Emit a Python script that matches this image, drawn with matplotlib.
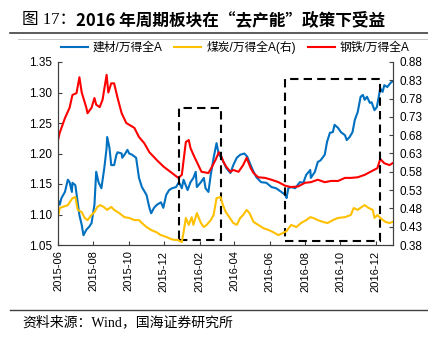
import matplotlib
matplotlib.use("Agg")
import matplotlib.pyplot as plt
import matplotlib.dates as mdates
from matplotlib.patches import Rectangle
from matplotlib.lines import Line2D
import pandas as pd

plt.rcParams['font.family'] = ['Liberation Sans', 'Noto Sans CJK SC', 'DejaVu Sans']

# 钢铁/万得全A (left axis)
steel_dates = ["2015-06-01", "2015-06-04", "2015-06-13", "2015-06-21", "2015-06-26", "2015-07-03",
               "2015-07-08", "2015-07-12", "2015-07-20", "2015-07-22", "2015-07-29", "2015-08-03",
               "2015-08-06", "2015-08-12", "2015-08-17", "2015-08-24", "2015-08-27", "2015-09-01",
               "2015-09-06", "2015-09-12", "2015-09-19", "2015-09-27", "2015-10-11", "2015-10-19",
               "2015-10-28", "2015-11-06", "2015-11-19", "2015-12-01", "2015-12-15", "2015-12-26",
               "2016-01-01", "2016-01-08", "2016-01-13", "2016-01-16", "2016-01-21", "2016-01-27",
               "2016-02-04", "2016-02-16", "2016-02-22", "2016-02-28", "2016-03-05", "2016-03-08",
               "2016-03-13", "2016-03-18", "2016-03-25", "2016-03-30", "2016-04-08", "2016-04-16",
               "2016-04-22", "2016-04-29", "2016-05-04", "2016-05-12", "2016-05-24", "2016-06-04",
               "2016-06-16", "2016-06-28", "2016-07-08", "2016-07-20", "2016-08-01", "2016-08-11",
               "2016-08-23", "2016-09-04", "2016-09-15", "2016-09-27", "2016-10-09", "2016-10-19",
               "2016-10-31", "2016-11-12", "2016-11-22", "2016-12-04", "2016-12-09", "2016-12-16",
               "2016-12-25", "2016-12-30"]
steel_vals = [1.222, 1.234, 1.258, 1.275, 1.296, 1.299,
              1.325, 1.300, 1.275, 1.266, 1.275, 1.291,
              1.280, 1.276, 1.288, 1.329, 1.300, 1.315,
              1.315, 1.291, 1.266, 1.250, 1.242, 1.227,
              1.217, 1.202, 1.189, 1.178, 1.168, 1.160,
              1.165, 1.219, 1.222, 1.209, 1.198, 1.186,
              1.170, 1.168, 1.178, 1.189, 1.202, 1.198,
              1.186, 1.178, 1.170, 1.173, 1.170, 1.181,
              1.193, 1.176, 1.168, 1.161, 1.160, 1.157,
              1.153, 1.147, 1.145, 1.146, 1.152, 1.153,
              1.157, 1.153, 1.155, 1.155, 1.160, 1.160,
              1.161, 1.165, 1.170, 1.176, 1.191, 1.184,
              1.181, 1.184]

# 建材/万得全A (left axis)
build_dates = ["2015-06-01", "2015-06-04", "2015-06-07", "2015-06-13", "2015-06-18", "2015-06-21",
               "2015-06-25", "2015-06-26", "2015-07-01", "2015-07-05", "2015-07-08", "2015-07-12",
               "2015-07-15", "2015-07-20", "2015-07-25", "2015-07-29", "2015-08-03", "2015-08-06",
               "2015-08-10", "2015-08-15", "2015-08-20", "2015-08-24", "2015-08-25", "2015-08-29",
               "2015-09-01", "2015-09-06", "2015-09-10", "2015-09-12", "2015-09-19", "2015-09-20",
               "2015-09-24", "2015-09-29", "2015-10-02", "2015-10-07", "2015-10-14", "2015-10-19",
               "2015-10-24", "2015-11-01", "2015-11-06", "2015-11-09", "2015-11-14", "2015-11-19",
               "2015-11-26", "2015-11-30", "2015-12-05", "2015-12-10", "2015-12-15", "2015-12-22",
               "2015-12-27", "2016-01-01", "2016-01-04", "2016-01-11", "2016-01-16", "2016-01-21",
               "2016-01-25", "2016-01-27", "2016-02-03", "2016-02-08", "2016-02-11", "2016-02-16",
               "2016-02-20", "2016-02-25", "2016-03-01", "2016-03-05", "2016-03-10", "2016-03-13",
               "2016-03-18", "2016-03-25", "2016-03-30", "2016-04-05", "2016-04-11", "2016-04-18",
               "2016-04-23", "2016-04-29", "2016-05-04", "2016-05-09", "2016-05-17", "2016-05-26",
               "2016-06-04", "2016-06-12", "2016-06-21", "2016-06-28", "2016-06-30", "2016-07-03",
               "2016-07-08", "2016-07-15", "2016-07-23", "2016-07-29", "2016-08-03", "2016-08-10",
               "2016-08-11", "2016-08-18", "2016-08-23", "2016-08-28", "2016-09-04", "2016-09-08",
               "2016-09-13", "2016-09-18", "2016-09-21", "2016-09-27", "2016-10-02", "2016-10-09",
               "2016-10-12", "2016-10-17", "2016-10-22", "2016-10-26", "2016-10-31", "2016-11-05",
               "2016-11-09", "2016-11-12", "2016-11-16", "2016-11-21", "2016-11-24", "2016-11-29",
               "2016-12-03", "2016-12-06", "2016-12-09", "2016-12-13", "2016-12-16", "2016-12-21",
               "2016-12-27", "2016-12-30"]
build_vals = [1.124, 1.116, 1.127, 1.137, 1.157, 1.153,
              1.137, 1.152, 1.148, 1.120, 1.099, 1.083,
              1.066, 1.075, 1.080, 1.086, 1.116, 1.170,
              1.153, 1.143, 1.176, 1.209, 1.227, 1.209,
              1.181, 1.181, 1.198, 1.202, 1.200, 1.193,
              1.198, 1.206, 1.200, 1.198, 1.193, 1.160,
              1.145, 1.132, 1.111, 1.102, 1.111, 1.116,
              1.120, 1.111, 1.132, 1.140, 1.143, 1.145,
              1.153, 1.143, 1.157, 1.140, 1.153, 1.160,
              1.170, 1.145, 1.153, 1.160, 1.143, 1.137,
              1.165, 1.193, 1.217, 1.198, 1.193, 1.186,
              1.176, 1.168, 1.181, 1.193, 1.198, 1.200,
              1.195, 1.181, 1.170, 1.161, 1.153, 1.152,
              1.145, 1.143, 1.137, 1.132, 1.127, 1.143,
              1.145, 1.143, 1.153, 1.152, 1.165, 1.173,
              1.160, 1.170, 1.186, 1.189, 1.198, 1.219,
              1.234, 1.235, 1.247, 1.242, 1.235, 1.230,
              1.222, 1.227, 1.235, 1.255, 1.268, 1.293,
              1.296, 1.288, 1.293, 1.283, 1.284, 1.271,
              1.276, 1.291, 1.307, 1.301, 1.312, 1.309,
              1.316, 1.318]

# 煤炭/万得全A (right axis)
coal_dates = ["2015-06-01", "2015-06-04", "2015-06-09", "2015-06-18", "2015-06-26", "2015-07-01",
              "2015-07-05", "2015-07-12", "2015-07-17", "2015-07-22", "2015-07-29", "2015-08-03",
              "2015-08-08", "2015-08-13", "2015-08-19", "2015-08-25", "2015-09-01", "2015-09-06",
              "2015-09-15", "2015-09-24", "2015-10-02", "2015-10-11", "2015-10-19", "2015-10-24",
              "2015-11-01", "2015-11-09", "2015-11-18", "2015-11-26", "2015-12-05", "2015-12-14",
              "2015-12-19", "2015-12-24", "2016-01-01", "2016-01-04", "2016-01-08", "2016-01-13",
              "2016-01-18", "2016-01-21", "2016-01-27", "2016-02-03", "2016-02-08", "2016-02-13",
              "2016-02-20", "2016-02-25", "2016-03-01", "2016-03-08", "2016-03-12", "2016-03-17",
              "2016-03-24", "2016-03-30", "2016-04-05", "2016-04-11", "2016-04-16", "2016-04-22",
              "2016-04-27", "2016-05-04", "2016-05-12", "2016-05-21", "2016-05-30", "2016-06-07",
              "2016-06-16", "2016-06-24", "2016-06-30", "2016-07-08", "2016-07-17", "2016-07-25",
              "2016-08-03", "2016-08-10", "2016-08-15", "2016-08-23", "2016-09-01", "2016-09-09",
              "2016-09-18", "2016-09-27", "2016-10-09", "2016-10-19", "2016-10-24", "2016-10-31",
              "2016-11-07", "2016-11-12", "2016-11-19", "2016-11-26", "2016-11-29", "2016-12-04",
              "2016-12-09", "2016-12-18", "2016-12-25", "2016-12-30"]
coal_vals = [0.457, 0.481, 0.484, 0.489, 0.508, 0.511,
             0.476, 0.470, 0.454, 0.448, 0.462, 0.470,
             0.484, 0.489, 0.484, 0.476, 0.484, 0.476,
             0.467, 0.456, 0.454, 0.448, 0.448, 0.440,
             0.429, 0.421, 0.415, 0.407, 0.402, 0.396,
             0.394, 0.394, 0.388, 0.415, 0.454, 0.435,
             0.456, 0.435, 0.467, 0.440, 0.429, 0.435,
             0.448, 0.462, 0.508, 0.511, 0.489, 0.470,
             0.454, 0.440, 0.435, 0.454, 0.462, 0.476,
             0.467, 0.443, 0.435, 0.426, 0.421, 0.415,
             0.407, 0.413, 0.418, 0.435, 0.429, 0.440,
             0.448, 0.456, 0.454, 0.448, 0.443, 0.440,
             0.448, 0.454, 0.456, 0.462, 0.481, 0.476,
             0.484, 0.489, 0.481, 0.476, 0.454, 0.462,
             0.454, 0.443, 0.440, 0.443]

# dashed highlight boxes: (start, end, low, high) on the left axis
boxes = [("2015-12-27", "2016-03-09", 1.059, 1.274),
         ("2016-06-27", "2016-12-08", 1.056, 1.322)]

left_ticks = [1.05, 1.10, 1.15, 1.20, 1.25, 1.30, 1.35]
right_ticks = [0.38, 0.43, 0.48, 0.53, 0.58, 0.63, 0.68, 0.73, 0.78, 0.83, 0.88]

c_build = "#0070C0"
c_coal = "#FFC000"
c_steel = "#FF0000"

fig = plt.figure(figsize=(4.28, 3.39), dpi=100)
ax = fig.add_axes([58 / 428, 1 - 245 / 339, 335 / 428, 183 / 339])
ax2 = ax.twinx()

ax.plot(pd.to_datetime(build_dates), build_vals, color=c_build, lw=1.5)
ax.plot(pd.to_datetime(steel_dates), steel_vals, color=c_steel, lw=1.5)
ax2.plot(pd.to_datetime(coal_dates), coal_vals, color=c_coal, lw=1.5)

for start, end, lo, hi in boxes:
    x0 = mdates.date2num(pd.Timestamp(start))
    x1 = mdates.date2num(pd.Timestamp(end))
    ax.add_patch(Rectangle((x0, lo), x1 - x0, hi - lo, fill=False, ec="black",
                           lw=1.5, ls=(0, (4, 2.5)), zorder=5))

ax.set_xlim(pd.Timestamp("2015-06-01"), pd.Timestamp("2016-12-31"))
ax.set_ylim(1.05, 1.35)
ax2.set_ylim(0.38, 0.88)
ax.set_yticks(left_ticks)
ax.set_yticklabels([f"{v:.2f}" for v in left_ticks])
ax2.set_yticks(right_ticks)
ax2.set_yticklabels([f"{v:.2f}" for v in right_ticks])

ax.xaxis.set_major_locator(mdates.MonthLocator(bymonth=[2, 4, 6, 8, 10, 12]))
ax.xaxis.set_major_formatter(mdates.DateFormatter("%Y-%m"))
for lab in ax.get_xticklabels():
    lab.set_rotation(90)

ax.tick_params(axis="x", direction="in", length=3, labelsize=8, pad=4, color="#404040")
ax.tick_params(axis="y", direction="in", length=3, labelsize=8.5, pad=4, color="#404040")
ax2.tick_params(axis="y", direction="in", length=3, labelsize=8.5, pad=5, color="#404040")

for a in (ax, ax2):
    a.spines["top"].set_visible(False)
    for s in ("left", "right", "bottom"):
        a.spines[s].set_color("#404040")
        a.spines[s].set_linewidth(0.8)

# legend
handles = [Line2D([], [], color=c_build, lw=1.5),
           Line2D([], [], color=c_coal, lw=1.5),
           Line2D([], [], color=c_steel, lw=1.5)]
labels = ["建材/万得全A", "煤炭/万得全A(右)", "钢铁/万得全A"]
fig.legend(handles, labels, loc="center", ncol=3, frameon=False,
           bbox_to_anchor=(56 / 428, 1 - 54 / 339, 358 / 428, 14 / 339), mode="expand",
           handlelength=2.3, handletextpad=0.4, borderaxespad=0,
           prop={"family": ["Liberation Sans", "Noto Sans CJK SC"], "size": 8.5})

# title, rules and source
fig.text(22 / 428, 1 - 20 / 339, "图 17：", fontsize=12, va="center", ha="left",
         family=["Liberation Serif", "Noto Sans CJK SC"])
fig.text(76 / 428, 1 - 20 / 339, "2016 年周期板块在“去产能”政策下受益",
         fontsize=12, fontweight="bold", va="center", ha="left",
         family=["Noto Sans CJK SC", "Liberation Sans"])
fig.add_artist(Line2D([10 / 428, 1], [1 - 33 / 339, 1 - 33 / 339], color="#404040", lw=1.2))
fig.add_artist(Line2D([18 / 428, 1], [1 - 39 / 339, 1 - 39 / 339], color="#BFBFBF", lw=0.6))
fig.add_artist(Line2D([10 / 428, 1], [1 - 310 / 339, 1 - 310 / 339], color="#404040", lw=1.0))
fig.text(22 / 428, 1 - 322 / 339, "资料来源：Wind，国海证券研究所", fontsize=10,
         va="center", ha="left", family=["Liberation Serif", "Noto Sans CJK SC"])

fig.savefig("out.png", dpi=100)
